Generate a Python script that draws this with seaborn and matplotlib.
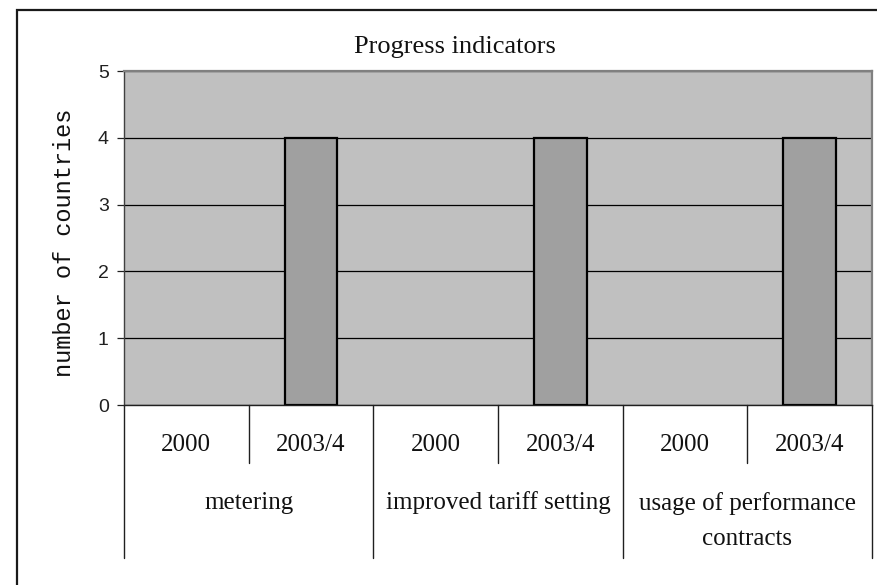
import matplotlib
matplotlib.use("Agg")
import matplotlib.pyplot as plt
from matplotlib.patches import Rectangle
import pandas as pd
import seaborn as sns

# Progress indicators: number of countries per indicator and period
indicators = ["metering", "improved tariff setting", "usage of performance\ncontracts"]
periods = ["2000", "2003/4"]
countries_2000 = [0, 0, 0]
countries_2003_4 = [4, 4, 4]
y_ticks = [0, 1, 2, 3, 4, 5]

rows = []
for ind, v0, v1 in zip(indicators, countries_2000, countries_2003_4):
    for per, v in zip(periods, (v0, v1)):
        rows.append({"slot": f"{ind} | {per}", "indicator": ind,
                     "period": per, "countries": v})
df = pd.DataFrame(rows)

sns.set_style("ticks")
SERIF = ["Liberation Serif", "DejaVu Serif"]
SANS = ["Liberation Sans", "DejaVu Sans"]
MONO = ["Liberation Mono", "DejaVu Sans Mono"]

W, H = 877, 585
fig = plt.figure(figsize=(W / 100, H / 100), dpi=100)
L, R, T, B = 124, 872, 71, 405
ax = fig.add_axes([L / W, 1 - B / H, (R - L) / W, (B - T) / H])
ax.set_facecolor("#C0C0C0")
ax.set_axisbelow(True)
ax.yaxis.grid(True, color="black", linewidth=0.9)

sns.barplot(data=df, x="slot", y="countries", order=list(df["slot"]),
            color="#A0A0A0", saturation=1, width=0.425,
            edgecolor="black", linewidth=1.6, errorbar=None, ax=ax)

# empty bars leave no outline on the axis
for patch in ax.patches:
    if patch.get_height() == 0:
        patch.set_edgecolor("none")

n = len(df)
ax.set_xlim(-0.5, n - 0.5)
ax.set_ylim(y_ticks[0], y_ticks[-1])
ax.set_yticks(y_ticks)
ax.set_yticklabels([str(t) for t in y_ticks], family=SANS, fontsize=14)
ax.tick_params(axis="y", length=5, width=0.9, pad=6, colors="#202020")
ax.set_xticks([])
ax.set_xlabel("")
ax.set_ylabel("")

for side in ("top", "right"):
    ax.spines[side].set_color("#808080")
    ax.spines[side].set_linewidth(1.6)
ax.spines["left"].set_color("#404040")
ax.spines["left"].set_linewidth(1.0)
ax.spines["bottom"].set_color("#202020")
ax.spines["bottom"].set_linewidth(1.0)

# Two-level category axis drawn below the plot area
ph = B - T
xt = ax.get_xaxis_transform()
n_per = len(periods)
for k in range(n + 1):
    edge = k - 0.5
    depth = 153 if k % n_per == 0 else 58
    ax.plot([edge, edge], [0, -depth / ph], transform=xt, color="#202020",
            linewidth=1.0, clip_on=False)

for i, per in enumerate(df["period"]):
    ax.text(i, -40 / ph, per, transform=xt, ha="center", va="center",
            family=SERIF, fontsize=18, color="#111111")

for g, ind in enumerate(indicators):
    cx = g * n_per + (n_per - 1) / 2
    lines = ind.count("\n") + 1
    cy = 503 + (lines - 1) * 36 / 2
    ax.text(cx, -(cy - B) / ph, ind, transform=xt, ha="center", va="center",
            family=SERIF, fontsize=18, color="#111111", linespacing=1.72)

fig.text(65 / W, 1 - 243 / H, "number of countries", rotation=90,
         ha="center", va="center", family=MONO, fontsize=17, color="#111111")
fig.text(455 / W, 1 - 47 / H, "Progress indicators", ha="center",
         va="center", family=SERIF, fontsize=19, color="#111111")

# Chart frame
fig.add_artist(Rectangle((17 / W, -0.1), 1.2, 1 - 10 / H + 0.1,
                         transform=fig.transFigure, fill=False,
                         linewidth=1.6, edgecolor="#1a1a1a", clip_on=False))

fig.savefig("out.png", dpi=100)
